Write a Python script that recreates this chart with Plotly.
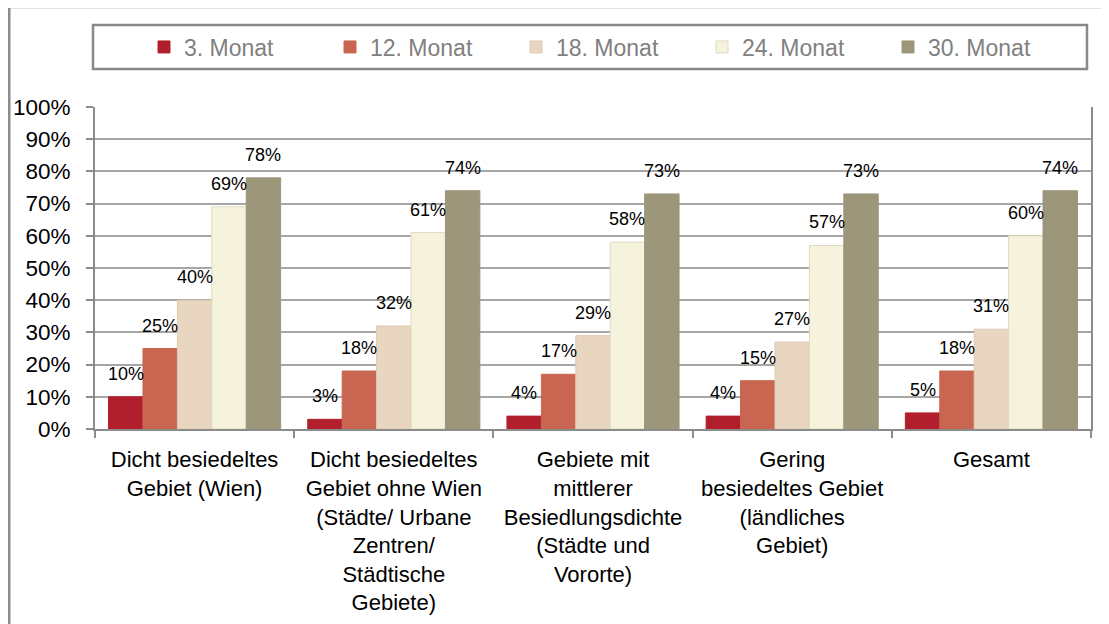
import plotly.graph_objects as go

categories = [
    "Dicht besiedeltes<br>Gebiet (Wien)",
    "Dicht besiedeltes<br>Gebiet ohne Wien<br>(Städte/ Urbane<br>Zentren/<br>Städtische<br>Gebiete)",
    "Gebiete mit<br>mittlerer<br>Besiedlungsdichte<br>(Städte und<br>Vororte)",
    "Gering<br>besiedeltes Gebiet<br>(ländliches<br>Gebiet)",
    "Gesamt",
]
series_names = ["3. Monat", "12. Monat", "18. Monat", "24. Monat", "30. Monat"]
values = {
    "3. Monat": [0.10, 0.03, 0.04, 0.04, 0.05],
    "12. Monat": [0.25, 0.18, 0.17, 0.15, 0.18],
    "18. Monat": [0.40, 0.32, 0.29, 0.27, 0.31],
    "24. Monat": [0.69, 0.61, 0.58, 0.57, 0.60],
    "30. Monat": [0.78, 0.74, 0.73, 0.73, 0.74],
}
colors = ["#B11F2D", "#C86651", "#E8D6C0", "#F5F3DC", "#9C967B"]
line_colors = ["#B11F2D", "#C86651", "#DCCAB3", "#DEDAC0", "#9C967B"]

FONT = "Liberation Sans"
# page body has an 8px margin; figure is sized/placed to compensate
OFF = 8
W, H = 1109 - OFF, 624 - OFF
PLOT_X0, PLOT_X1, PLOT_Y0, PLOT_Y1 = 95, 1091, 107, 429  # screen coords of plot area
L, T = PLOT_X0 - OFF, PLOT_Y0 - OFF
PW = PLOT_X1 - PLOT_X0
PH = PLOT_Y1 - PLOT_Y0
R = W - L - PW
B = H - T - PH
BARGAP = 0.136

def px(x):
    return (x - PLOT_X0) / PW

def py(y):
    return (PLOT_Y1 - y) / PH

fig = go.Figure()
for name, c, lc in zip(series_names, colors, line_colors):
    fig.add_trace(go.Bar(
        name=name, x=categories, y=values[name],
        marker=dict(color=c, line=dict(color=lc, width=1)),
    ))

# data labels
bar_w = PW / len(categories) * (1 - BARGAP) / len(series_names)
annotations = []
for j, name in enumerate(series_names):
    for i, cat in enumerate(categories):
        v = values[name][i]
        annotations.append(dict(
            x=cat, y=v, xref="x", yref="y",
            text=f"{round(v*100):.0f}%", showarrow=False,
            xshift=(j - (len(series_names) - 1) / 2) * bar_w,
            yshift=11, yanchor="bottom",
            font=dict(family=FONT, size=18, color="#000000"),
        ))

shapes = [
    # legend box
    dict(type="rect", xref="paper", yref="paper",
         x0=px(93), x1=px(1087), y0=py(69), y1=py(25),
         line=dict(color="#898989", width=2.5), fillcolor="rgba(0,0,0,0)"),
    # outer chart border (top + left)
    dict(type="line", xref="paper", yref="paper",
         x0=px(9), x1=px(1115), y0=py(7), y1=py(7),
         line=dict(color="#8C8C8C", width=2.5)),
    dict(type="line", xref="paper", yref="paper",
         x0=px(9), x1=px(9), y0=py(7), y1=py(640),
         line=dict(color="#8C8C8C", width=3)),
]

fig.update_layout(
    width=W, height=H,
    margin=dict(l=L, r=R, t=T, b=B, pad=0, autoexpand=False),
    paper_bgcolor="white", plot_bgcolor="white",
    barmode="group", bargap=BARGAP, bargroupgap=0,
    font=dict(family=FONT, color="#000000"),
    showlegend=True,
    legend=dict(
        orientation="h", x=px(144), xanchor="left", y=py(47), yanchor="middle",
        font=dict(family=FONT, size=23, color="#808080"),
        bgcolor="rgba(0,0,0,0)", borderwidth=0,
        entrywidth=141, entrywidthmode="pixels",
        traceorder="normal",
    ),
    annotations=annotations,
    shapes=shapes,
)
fig.update_xaxes(
    type="category", showline=True, linecolor="#8C8C8C", linewidth=2,
    ticks="outside", tickson="boundaries", ticklen=7, tickcolor="#8C8C8C", tickwidth=1.5,
    tickfont=dict(family=FONT, size=22, color="#000000"),
    showgrid=False, tickangle=0, ticklabelstandoff=10, automargin=False,
)
fig.update_yaxes(
    range=[0, 1], dtick=0.1, tickformat=".0%",
    showline=True, linecolor="#8C8C8C", linewidth=2, mirror=True,
    ticks="outside", ticklen=7, tickcolor="#8C8C8C", tickwidth=1.5,
    tickfont=dict(family=FONT, size=22.5, color="#000000"),
    showgrid=True, gridcolor="#A6A6A6", gridwidth=1.5,
    zeroline=False, ticklabelstandoff=11, automargin=False,
)

fig.write_html("out.html")
